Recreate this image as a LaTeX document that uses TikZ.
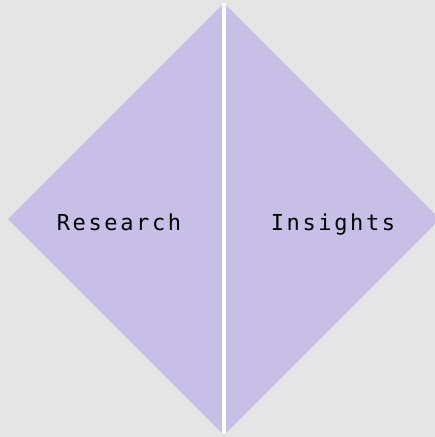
\documentclass[tikz,border=0pt]{standalone}
\usepackage{fontspec}
\newfontfamily\etiquetafont[LetterSpace=12]{DejaVu Sans Mono}
\definecolor{fondo}{HTML}{E5E5E5}
\definecolor{lila}{HTML}{C8BFE7}
\tikzset{etiqueta/.style={font=\etiquetafont\fontsize{22}{26}\selectfont, anchor=base, inner sep=0pt}}
\begin{document}
\begin{tikzpicture}[x=1pt,y=-1pt]
    % Fondo
    \useasboundingbox (0,0) rectangle (435,437);
    \clip (0,0) rectangle (435,437);
    \fill[fondo] (0,0) rectangle (435,437);
    
    % Rombo
    \coordinate (arriba) at (224,3);
    \coordinate (abajo) at (224,435);
    \fill[lila] (arriba) -- (440,219) -- (abajo) -- (8,219) -- cycle;
    
    % Línea divisoria
    \coordinate (corte) at (224,434);
    \draw[white, line width=4pt] (arriba) -- (corte);
    
    % Etiquetas de los lados
    \node[etiqueta] (research) at (119,230) {Research};
    \node[etiqueta] (insights) at (333,230) {Insights};
\end{tikzpicture}
\end{document}
